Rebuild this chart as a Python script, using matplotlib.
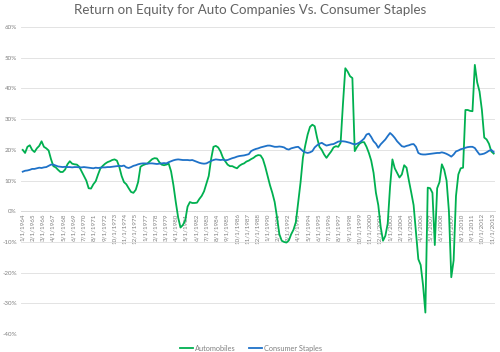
import numpy as np
import pandas as pd
import matplotlib
matplotlib.use("Agg")
import matplotlib.pyplot as plt
from matplotlib.ticker import FuncFormatter, MultipleLocator

plt.rcParams['font.family'] = ['Lato', 'DejaVu Sans']

# quarterly ROE (%), first quarter 1/1/1964
automobiles = [
    20, 19, 21, 21.5, 20, 19.3, 20.5, 21.3, 22.8, 21, 20.5, 19.8,
    17, 14.7, 14.3, 13.5, 12.8, 12.8, 13.6, 15.3, 16.3, 15.5, 15.3, 15.2,
    14.5, 13, 11.5, 10, 7.5, 7.4, 8.8, 9.8, 12, 14, 14.8, 15.5,
    16, 16.3, 16.7, 16.9, 16.5, 14.5, 11.5, 9.5, 8.8, 7.5, 6.3, 6.0,
    7, 9.5, 14.5, 15, 15.3, 15.6, 16.3, 17, 17.3, 17.2, 16, 15.2,
    15, 15.2, 15.5, 13, 8.5, 3, -2, -5.3, -4.5, -3, 1.5, 3,
    2.7, 2.7, 2.8, 4, 5, 6.5, 9, 11.5, 17, 21, 21.3, 20.8,
    19.5, 17.5, 16.3, 15.2, 14.7, 14.7, 14.3, 14.0, 14.8, 15.3, 15.6, 16.2,
    16.5, 17, 17.4, 18, 18.3, 18.2, 17, 14.5, 11.5, 8.5, 6, 3,
    -2, -7.5, -9.6, -10, -10.2, -9.5, -7.5, -6, -3.5, 3, 9.5, 17.5,
    21.5, 25, 27.5, 28.2, 27.7, 24, 21, 20, 18.5, 17.4, 18.5, 19.5,
    20.8, 21.2, 21, 22.3, 35, 46.6, 45.5, 44, 43.4, 19.6, 21, 22,
    22.5, 22.5, 21, 19, 16.5, 12.5, 6, 2, -5, -9.6, -8, -4,
    8, 16.9, 14, 12.5, 11, 12, 15, 14.2, 10, 6.1, 2, -7,
    -15.6, -17.5, -24, -33, 7.7, 7.5, 6, -11, 7.5, 9.5, 15.3, 13.5,
    10, 0, -21.5, -16, 5, 12, 14, 14.2, 33, 33, 32.7, 32.6,
    47.7, 42, 39, 33, 24, 23.4, 22, 19.5, 18.8,
]
consumer_staples = [
    12.9, 13.2, 13.3, 13.5, 13.8, 13.8, 14, 14.2, 14.1, 14.3, 14.4, 14.8,
    15.2, 15.2, 14.9, 14.6, 14.5, 14.4, 14.5, 14.4, 14.4, 14.3, 14.4, 14.4,
    14.3, 14.3, 14.4, 14.3, 14.2, 14.1, 14.0, 14.2, 14.1, 14.2, 14.3, 14.3,
    14.4, 14.4, 14.5, 14.6, 14.7, 14.8, 14.7, 14.9, 14.3, 14.1, 14.4, 14.8,
    15, 15.3, 15.5, 15.6, 15.6, 15.5, 15.6, 15.6, 15.5, 15.4, 15.5, 15.6,
    15.7, 15.6, 16, 16.3, 16.6, 16.8, 16.9, 16.8, 16.7, 16.7, 16.7, 16.6,
    16.7, 16.4, 16.1, 15.8, 15.6, 15.5, 15.6, 16, 16.4, 16.7, 16.9, 16.8,
    16.7, 16.8, 16.6, 16.7, 17.0, 17.3, 17.5, 17.8, 18, 18.1, 18.2, 18.4,
    18.6, 19.6, 20, 20.3, 20.5, 20.8, 21, 21.2, 21.4, 21.4, 21.2, 21,
    21, 21.1, 21, 20.8, 20.3, 20.1, 20.5, 20.7, 20.9, 21, 20.3, 19.6,
    19.2, 19, 19.2, 19.6, 20.8, 21.5, 22, 22.3, 21.8, 21.4, 21.6, 21.8,
    21.9, 22.3, 22.7, 22.8, 22.8, 22.7, 22.5, 22.3, 22, 21.8, 22, 22.4,
    23, 23.7, 25, 25.3, 24.2, 22.8, 22, 20.7, 21.8, 22.6, 23.4, 24.5,
    25.5, 24.8, 23.9, 22.8, 22, 21.2, 21, 21.3, 21.5, 21.8, 21.9, 21,
    19, 18.6, 18.5, 18.5, 18.6, 18.7, 18.8, 18.9, 19, 19, 19.2, 19,
    18.7, 18.3, 17.8, 18.5, 19.5, 19.8, 20.2, 20.4, 20.7, 20.9, 21, 21,
    20.6, 19.5, 18.5, 18.6, 18.8, 19.2, 19.7, 20, 19.3,
]
series_names = ["Automobiles", "Consumer Staples"]
series_colors = ["#00b050", "#1f72c8"]

# x axis is monthly categories from 1/1/1964, labelled every 13 months
months = pd.date_range("1964-01-01", "2014-01-01", freq="MS")
label_dates = months[::13]
tick_labels = [f"{d.month}/1/{d.year}" for d in label_dates]
tick_pos = np.arange(len(months))[::13]
quarter_pos = np.arange(len(automobiles)) * 3

fig = plt.figure(figsize=(5, 3.52), dpi=100)
ax = fig.add_axes([0.042, 0.051, 0.948, 0.872])

for vals, name, col in zip([automobiles, consumer_staples], series_names, series_colors):
    ax.plot(quarter_pos, vals, color=col, lw=1.3, label=name, zorder=3)

ax.set_ylim(-40, 60)
ax.set_xlim(-2.2, 601.7)
ax.yaxis.set_major_locator(MultipleLocator(10))
ax.yaxis.set_major_formatter(FuncFormatter(lambda v, p: f"{v:.0f}%"))
ax.grid(axis='y', color='#e3e3e3', lw=0.7)
ax.set_axisbelow(True)

for s in ['top', 'right', 'left']:
    ax.spines[s].set_visible(False)
ax.spines['bottom'].set_position(('data', 0))
ax.spines['bottom'].set_color('#d9d9d9')
ax.spines['bottom'].set_linewidth(0.7)

ax.set_xticks(tick_pos)
ax.set_xticklabels(tick_labels, rotation=90, va='top', ha='center')
ax.tick_params(axis='x', length=0, pad=1.5, labelsize=4.5, labelcolor='#808080')
ax.tick_params(axis='y', length=0, pad=3, labelsize=4.5, labelcolor='#808080')

fig.text(0.5, 0.972, "Return on Equity for Auto Companies Vs. Consumer Staples",
         ha='center', va='center', fontsize=9.6, color='#636363')

fig.legend(loc='center', bbox_to_anchor=(0.502, 0.011), ncol=2, frameon=False,
           fontsize=5.3, labelcolor='#808080', handlelength=1.8, handletextpad=0.2,
           columnspacing=1.8, borderpad=0)

fig.savefig("out.png", dpi=100)
